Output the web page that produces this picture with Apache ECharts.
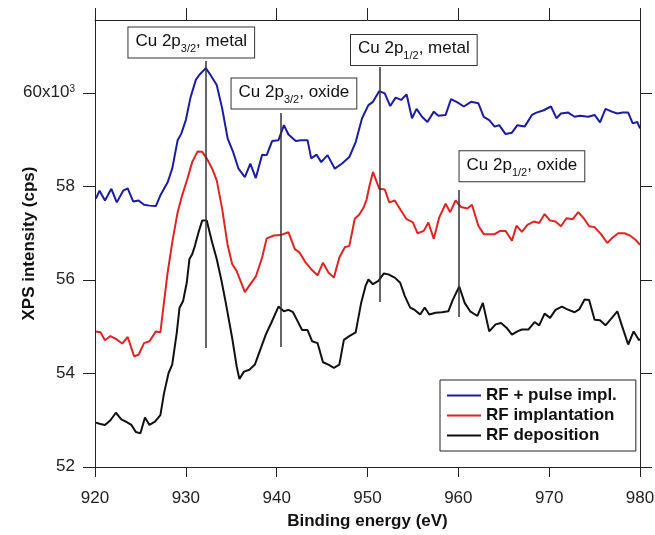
<!DOCTYPE html>
<html>
<head>
<meta charset="utf-8">
<script src="https://cdn.jsdelivr.net/npm/echarts@6/dist/echarts.min.js"></script>
<style>
  html, body { margin: 0; padding: 0; background: #fff; }
  #main { width: 655px; height: 535px; }
</style>
</head>
<body>
<div id="main"></div>
<script>
// binding energy (eV) / intensity (cps)
const blueEnergy = [920.1, 920.5, 921.1, 921.8, 922.4, 923.1, 923.6, 924.2, 924.8, 925.4, 926.0, 926.7, 927.2, 928.0, 928.5, 929.1, 929.5, 930.0, 930.5, 931.1, 931.5, 932.2, 932.7, 933.4, 934.0, 934.6, 935.2, 935.8, 936.5, 937.1, 937.7, 938.4, 938.9, 939.5, 940.2, 940.8, 941.3, 942.1, 942.7, 943.4, 943.8, 944.4, 944.9, 945.6, 946.4, 947.2, 948.0, 948.7, 949.4, 950.1, 950.6, 951.3, 951.9, 952.5, 953.1, 953.7, 954.3, 954.9, 955.4, 956.0, 956.6, 957.3, 957.8, 958.6, 959.2, 959.9, 960.6, 961.4, 962.2, 962.8, 963.4, 964.0, 964.5, 965.2, 965.9, 966.5, 967.3, 968.1, 968.6, 969.4, 970.2, 970.8, 971.3, 972.1, 972.8, 973.4, 974.3, 975.0, 975.6, 976.2, 976.9, 977.5, 978.1, 978.7, 979.2, 979.7, 980.0];
const blueIntensity = [57740, 57910, 57700, 57950, 57660, 57910, 57960, 57680, 57700, 57610, 57590, 57580, 57810, 58090, 58380, 58990, 59130, 59420, 59890, 60280, 60390, 60530, 60390, 60170, 59670, 59030, 58740, 58380, 58200, 58490, 58180, 58680, 58670, 58970, 58990, 59310, 59110, 58970, 58990, 58990, 58600, 58680, 58520, 58670, 58380, 58490, 58630, 58950, 59460, 59740, 59810, 60040, 59990, 59720, 59900, 59850, 59970, 59460, 59660, 59490, 59380, 59600, 59510, 59530, 59870, 59800, 59710, 59810, 59780, 59490, 59420, 59280, 59310, 59120, 59150, 59310, 59280, 59530, 59580, 59630, 59710, 59460, 59560, 59580, 59490, 59510, 59490, 59530, 59370, 59660, 59600, 59560, 59580, 59580, 59350, 59380, 59240];

const redEnergy = [920.1, 920.6, 921.1, 921.7, 922.3, 923.0, 923.6, 924.3, 924.8, 925.4, 926.0, 926.7, 927.2, 927.5, 928.0, 928.5, 929.1, 929.6, 930.2, 930.7, 931.3, 931.8, 932.3, 932.9, 933.4, 934.0, 934.6, 935.1, 935.6, 936.5, 937.1, 937.7, 938.4, 938.9, 939.7, 940.4, 941.3, 942.0, 942.5, 943.2, 943.8, 944.5, 945.1, 945.7, 946.3, 946.9, 947.5, 948.0, 948.6, 949.1, 949.6, 949.9, 950.2, 950.6, 951.3, 951.9, 952.4, 953.0, 953.7, 954.3, 955.0, 955.5, 956.2, 956.7, 957.3, 957.9, 958.6, 959.1, 959.7, 960.3, 961.0, 961.5, 962.2, 962.8, 963.4, 964.0, 964.6, 965.2, 965.9, 966.4, 967.0, 967.6, 968.3, 968.9, 969.5, 970.1, 970.7, 971.3, 971.9, 972.6, 973.2, 973.8, 974.4, 975.0, 975.7, 976.4, 977.0, 977.6, 978.3, 978.9, 979.5, 980.0];
const redIntensity = [54900, 54880, 54710, 54800, 54740, 54640, 54780, 54370, 54400, 54650, 54690, 54900, 54880, 55370, 56160, 56800, 57450, 57810, 58180, 58520, 58750, 58740, 58600, 58380, 58130, 57520, 56750, 56340, 56190, 55740, 55910, 56070, 56480, 56890, 56950, 56960, 57020, 56660, 56590, 56370, 56230, 56100, 56370, 56160, 56050, 56480, 56700, 56730, 57310, 57400, 57560, 57720, 58000, 58310, 57950, 57935, 57660, 57700, 57480, 57300, 57230, 57000, 57050, 57230, 56880, 57340, 57630, 57450, 57700, 57560, 57530, 57610, 57160, 56980, 56980, 56980, 57050, 57050, 56840, 57160, 57030, 57180, 57250, 57220, 57410, 57270, 57250, 57150, 57320, 57300, 57450, 57320, 57150, 57130, 56980, 56790, 56910, 57000, 57000, 56950, 56860, 56750];

const blackEnergy = [920.1, 920.6, 921.1, 921.7, 922.3, 922.9, 923.4, 924.0, 924.5, 925.0, 925.5, 926.0, 926.6, 927.2, 927.6, 928.1, 928.5, 929.0, 929.3, 929.7, 930.1, 930.4, 930.7, 931.0, 931.4, 931.8, 932.3, 932.9, 933.4, 933.9, 934.4, 935.1, 935.6, 935.9, 936.4, 937.0, 937.6, 938.2, 938.8, 939.4, 940.2, 940.8, 941.3, 941.8, 942.3, 942.8, 943.4, 943.9, 944.5, 945.1, 945.7, 946.3, 946.9, 947.4, 948.0, 948.7, 949.3, 949.8, 950.1, 950.6, 951.2, 951.8, 952.3, 953.0, 953.6, 954.1, 954.7, 955.2, 955.8, 956.3, 956.8, 957.5, 958.2, 958.9, 959.4, 960.1, 960.7, 961.3, 962.1, 962.7, 963.4, 964.1, 964.7, 965.3, 965.9, 966.5, 967.0, 967.7, 968.4, 968.9, 969.5, 970.1, 970.7, 971.4, 972.0, 972.8, 973.3, 973.9, 974.4, 975.0, 975.6, 976.2, 976.9, 977.5, 978.0, 978.7, 979.3, 979.9, 980.0];
const blackIntensity = [52950, 52920, 52900, 53000, 53160, 53020, 52970, 52900, 52750, 52720, 53060, 52900, 52970, 53110, 53580, 54010, 54190, 54870, 55400, 55550, 55940, 56450, 56550, 56730, 57020, 57270, 57270, 56800, 56450, 56010, 55510, 54760, 54150, 53880, 54040, 54080, 54190, 54510, 54830, 55080, 55430, 55330, 55360, 55310, 55120, 54930, 54930, 54690, 54650, 54240, 54190, 54120, 54190, 54720, 54800, 54880, 55510, 55880, 56010, 55910, 55980, 56140, 56120, 56050, 55940, 55660, 55410, 55360, 55260, 55410, 55260, 55300, 55310, 55330, 55580, 55860, 55510, 55330, 55230, 55510, 54900, 55050, 55080, 54980, 54830, 54900, 54940, 54940, 55100, 55030, 55280, 55190, 55360, 55430, 55370, 55310, 55370, 55580, 55570, 55150, 55140, 55030, 55190, 55330, 55030, 54620, 54900, 54710, 54740];

const seriesNames = ["RF + pulse impl.", "RF implantation", "RF deposition"];
const seriesColors = ["#1c1ca2", "#e02424", "#111111"];

const yTicks = [52000, 54000, 56000, 58000, 60000];

// peak markers: vertical lines and their boxed labels
const peakSub = ["3/2", "3/2", "1/2", "1/2"];
const peakState = ["metal", "oxide", "metal", "oxide"];
const peakEnergy = [932.2, 940.5, 951.3, 960.0];
const peakLineTop = [60685, 59570, 60555, 57925];
const peakLineBottom = [54545, 54565, 55530, 55210];
const boxEnergy = [930.6, 941.9, 955.1, 967.0];
const boxIntensity = [61080, 59990, 60920, 58430];

const FONT = "Liberation Sans, Arial, sans-serif";
const AXIS_COLOR = "#222";

const chart = echarts.init(document.getElementById("main"), null, { renderer: "canvas" });

function pairs(xs, ys) {
  return xs.map((x, i) => [x, ys[i]]);
}

const energies = [blueEnergy, redEnergy, blackEnergy];
const lineSeries = [blueIntensity, redIntensity, blackIntensity].map((ys, k) => ({
  name: seriesNames[k],
  type: "line",
  data: pairs(energies[k], ys),
  symbol: "none",
  color: seriesColors[k],
  lineStyle: { width: 2, color: seriesColors[k] },
  z: 3,
}));

const annotation = {
  name: "peaks",
  type: "line",
  data: [],
  silent: true,
  z: 4,
  markLine: {
    silent: true,
    symbol: "none",
    animation: false,
    label: { show: false },
    lineStyle: { color: "#333", width: 1.5, type: "solid" },
    data: peakEnergy.map((e, i) => [
      { coord: [e, peakLineBottom[i]] },
      { coord: [e, peakLineTop[i]] },
    ]),
  },
  markPoint: {
    silent: true,
    symbol: "rect",
    symbolSize: 0,
    animation: false,
    data: boxEnergy.map((e, i) => ({
      coord: [e, boxIntensity[i]],
      label: {
        show: true,
        position: "inside",
        formatter: "{m|Cu 2p}{s|" + peakSub[i] + "}{m|, " + peakState[i] + "}",
        backgroundColor: "#fff",
        borderColor: "#333",
        borderWidth: 1,
        padding: [5, 7, 6, 7],
        rich: {
          m: { fontFamily: FONT, fontSize: 17, color: "#111", lineHeight: 19, verticalAlign: "top" },
          s: { fontFamily: FONT, fontSize: 11, color: "#111", lineHeight: 11, verticalAlign: "top", padding: [11, 0, 0, 0] },
        },
      },
    })),
  },
};

const option = {
  animation: false,
  backgroundColor: "#fff",
  grid: { left: 95, right: 15, top: 20, bottom: 68, containLabel: false, outerBoundsMode: "none" },
  legend: {
    data: seriesNames,
    orient: "vertical",
    left: 440,
    top: 380,
    padding: [7, 19, 7, 7],
    itemGap: 3,
    itemWidth: 34,
    itemHeight: 2,
    icon: "rect",
    borderColor: "#222",
    borderWidth: 1,
    backgroundColor: "#fff",
    textStyle: { fontFamily: FONT, fontSize: 17, fontWeight: "bold", color: "#111" },
  },
  xAxis: [
    {
      type: "value",
      min: 920,
      max: 980,
      interval: 10,
      position: "bottom",
      name: "Binding energy (eV)",
      nameLocation: "middle",
      nameGap: 46,
      nameMoveOverlap: false,
      nameTextStyle: { fontFamily: FONT, fontSize: 17, fontWeight: "bold", color: "#111" },
      axisLine: { onZero: false, lineStyle: { color: AXIS_COLOR, width: 1 } },
      axisTick: { length: 10, lineStyle: { color: AXIS_COLOR, width: 1 } },
      axisLabel: { margin: 23, fontFamily: FONT, fontSize: 17, color: "#222" },
      splitLine: { show: false },
    },
    {
      type: "value",
      min: 920,
      max: 980,
      interval: 10,
      position: "top",
      axisLine: { onZero: false, lineStyle: { color: AXIS_COLOR, width: 1 } },
      axisTick: { length: 12, lineStyle: { color: AXIS_COLOR, width: 1 } },
      axisLabel: { show: false },
      splitLine: { show: false },
    },
  ],
  yAxis: [
    {
      type: "value",
      min: 52000,
      max: 61560,
      interval: 2000,
      position: "left",
      name: "XPS intensity (cps)",
      nameLocation: "middle",
      nameRotate: 90,
      nameGap: 57,
      nameMoveOverlap: false,
      nameTextStyle: { fontFamily: FONT, fontSize: 17, fontWeight: "bold", color: "#111" },
      axisLine: { show: true, onZero: false, lineStyle: { color: AXIS_COLOR, width: 1 } },
      axisTick: { show: true, length: 12, customValues: yTicks, lineStyle: { color: AXIS_COLOR, width: 1 } },
      axisLabel: {
        margin: 20,
        customValues: yTicks,
        fontFamily: FONT,
        fontSize: 17,
        color: "#222",
        formatter: function (v) {
          if (v === 60000) return "{n|60x10}{p|3}";
          return "{n|" + v / 1000 + "}";
        },
        rich: {
          n: { fontFamily: FONT, fontSize: 17, color: "#222", lineHeight: 18, verticalAlign: "top" },
          p: { fontFamily: FONT, fontSize: 10, color: "#222", lineHeight: 10, verticalAlign: "top" },
        },
      },
      splitLine: { show: false },
    },
    {
      type: "value",
      min: 52000,
      max: 61560,
      interval: 2000,
      position: "right",
      axisLine: { show: true, onZero: false, lineStyle: { color: AXIS_COLOR, width: 1 } },
      axisTick: { show: true, length: 12, customValues: yTicks, lineStyle: { color: AXIS_COLOR, width: 1 } },
      axisLabel: { show: false },
      splitLine: { show: false },
    },
  ],
  series: [...lineSeries, annotation],
};

chart.setOption(option);
</script>
</body>
</html>
